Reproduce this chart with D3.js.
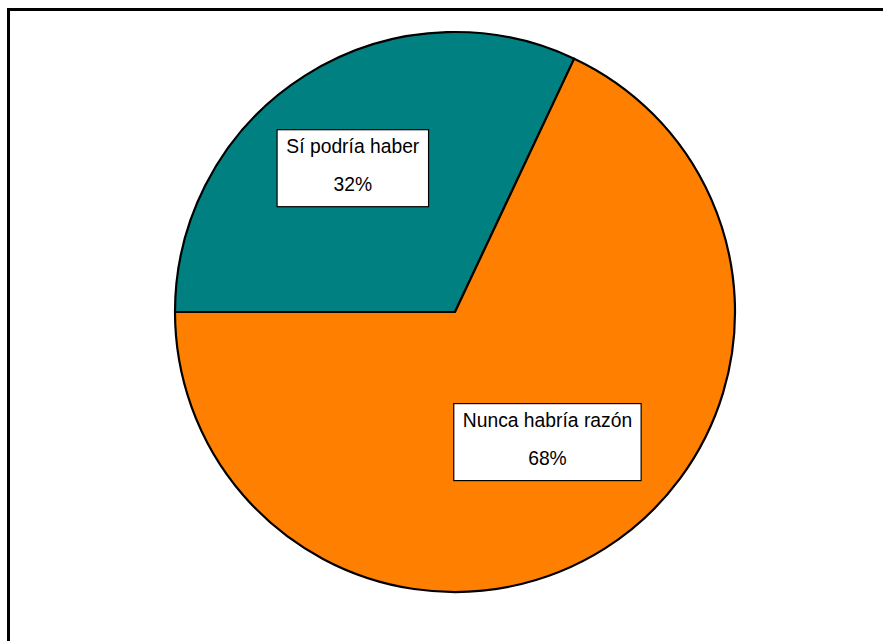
<!DOCTYPE html>
<html><head><meta charset="utf-8">
<script src="https://cdn.jsdelivr.net/npm/d3@7"></script>
<style>body{margin:0;background:#fff}svg{display:block}</style>
</head><body>
<svg id="c" width="883" height="641"></svg>
<script>
const categories = ["Sí podría haber", "Nunca habría razón"];
const values = [32, 68];
const valueLabels = ["32%", "68%"];
const colors = ["#008080", "#FF8000"];

const svg = d3.select("#c");
// outer frame
svg.append("rect").attr("x", 8.5).attr("y", 9.5).attr("width", 900).attr("height", 700)
  .attr("fill", "#fff").attr("stroke", "#000").attr("stroke-width", 3);

const cx = 455, cy = 312, R = 280;
const g = svg.append("g").attr("transform", `translate(${cx},${cy})`);
const pie = d3.pie().sort(null).value(d => d.v)
  .startAngle(-Math.PI / 2).endAngle(1.5 * Math.PI);
const data = pie(categories.map((c, i) => ({c, v: values[i], l: valueLabels[i], col: colors[i]})));
const arc = d3.arc().innerRadius(0).outerRadius(R);
g.selectAll("path.s").data(data).join("path").attr("class", "s")
  .attr("d", arc).attr("fill", d => d.data.col)
  .attr("stroke", "#000").attr("stroke-width", 2.2).attr("stroke-linejoin", "round");

const labelR = [0.63, 0.57];
const rot = -3 * Math.PI / 180;
const lg = g.selectAll("g.lab").data(data).join("g").attr("class", "lab")
  .attr("transform", (d, i) => {
    const a = (d.startAngle + d.endAngle) / 2 + rot, r = R * labelR[i];
    return `translate(${r * Math.sin(a)},${-r * Math.cos(a)})`;
  });
lg.append("rect").attr("fill", "#fff").attr("stroke", "#000").attr("stroke-width", 1.2);
lg.append("text").attr("text-anchor", "middle").attr("y", -15.5)
  .attr("font-family", "Liberation Sans, Arial, sans-serif").attr("font-size", 19.3).attr("fill", "#000")
  .text(d => d.data.c);
lg.append("text").attr("text-anchor", "middle").attr("y", 22.5)
  .attr("font-family", "Liberation Sans, Arial, sans-serif").attr("font-size", 19.3).attr("fill", "#000")
  .text(d => d.data.l);
lg.each(function() {
  const t = d3.select(this).select("text").node().getBBox();
  const w = t.width + 18;
  d3.select(this).select("rect").attr("x", -w / 2).attr("y", -38.5).attr("width", w).attr("height", 77);
});
</script>
</body></html>
